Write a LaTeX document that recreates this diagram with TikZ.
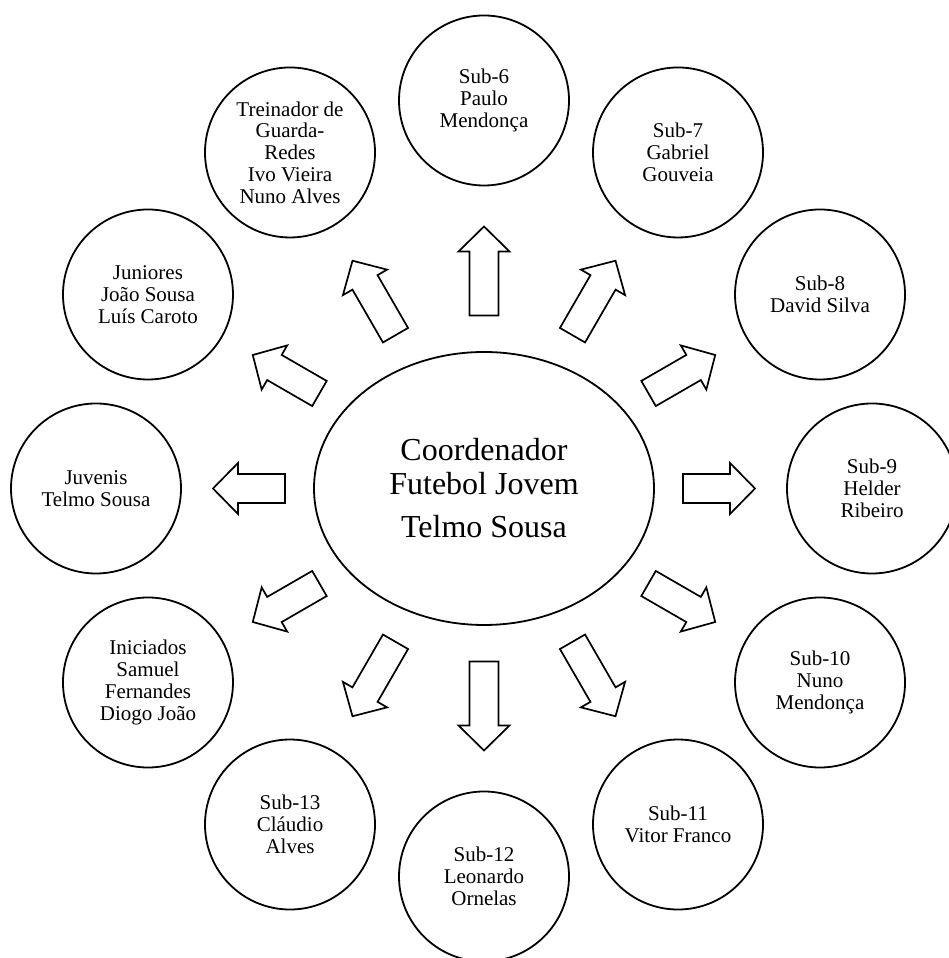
\documentclass[tikz,border=0pt]{standalone}
\usepackage{fontspec}
\setmainfont{Liberation Serif}
\usetikzlibrary{shapes.geometric,calc}
\newcommand\radarrow[3]{%
  \draw[blockarrow,shift={(c)},rotate=#1]
    (#2,-14.5) -- (#3-25,-14.5) -- (#3-25,-25.5) -- (#3,0)
    -- (#3-25,25.5) -- (#3-25,14.5) -- (#2,14.5) -- cycle;}
\begin{document}
\begin{tikzpicture}[x=1pt,y=1pt,
  member/.style={circle,draw,line width=1.8pt,minimum size=170pt,inner sep=0pt,
    align=center,font=\fontsize{21}{21.7}\selectfont},
  hub/.style={ellipse,draw,line width=1.8pt,minimum width=340pt,minimum height=273pt,
    inner sep=0pt,align=center,font=\fontsize{32}{33.7}\selectfont},
  blockarrow/.style={draw,line width=1.7pt,line join=miter,fill=white}]
\useasboundingbox (0,0) rectangle (949,958);
\coordinate (c) at (484,469.5);
\node[hub] (hub) at (c) {Coordenador\\Futebol Jovem\\[9.6pt]Telmo Sousa};
\node[member] (s6)  at ($(c)+(90:388)$)   {Sub-6\\Paulo\\Mendonça};
\node[member] (s7)  at ($(c)+(60:388)$)   {Sub-7\\Gabriel\\Gouveia};
\node[member] (s8)  at ($(c)+(30:388)$)   {Sub-8\\David Silva};
\node[member] (s9)  at ($(c)+(0:388)$)    {Sub-9\\Helder\\Ribeiro};
\node[member] (s10) at ($(c)+(-30:388)$)  {Sub-10\\Nuno\\Mendonça};
\node[member] (s11) at ($(c)+(-60:388)$)  {Sub-11\\Vitor Franco};
\node[member] (s12) at ($(c)+(-90:388)$)  {Sub-12\\Leonardo\\Ornelas};
\node[member] (s13) at ($(c)+(-120:388)$) {Sub-13\\Cláudio\\Alves};
\node[member] (ini) at ($(c)+(-150:388)$) {Iniciados\\Samuel\\Fernandes\\Diogo João};
\node[member] (juv) at ($(c)+(180:388)$)  {Juvenis\\Telmo Sousa};
\node[member] (jun) at ($(c)+(150:388)$)  {Juniores\\João Sousa\\Luís Caroto};
\node[member] (gr)  at ($(c)+(120:388)$)  {Treinador de\\Guarda-\\Redes\\Ivo Vieira\\Nuno Alves};
\radarrow{90}{173}{262}
\radarrow{-90}{173}{262}
\radarrow{60}{177}{263}
\radarrow{120}{177}{263}
\radarrow{-60}{177}{263}
\radarrow{-120}{177}{263}
\radarrow{30}{190}{267}
\radarrow{150}{190}{267}
\radarrow{-30}{190}{267}
\radarrow{-150}{190}{267}
\radarrow{0}{199}{271}
\radarrow{180}{199}{271}
\end{tikzpicture}
\end{document}
